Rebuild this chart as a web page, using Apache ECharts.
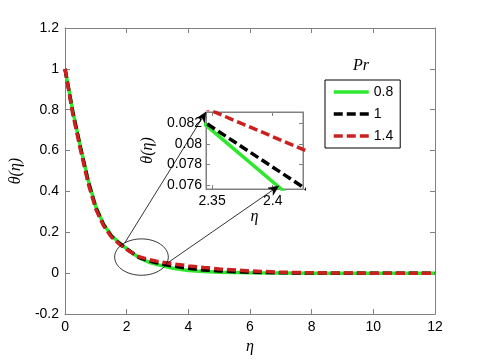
<!DOCTYPE html>
<html><head><meta charset="utf-8">
<script src="https://cdn.jsdelivr.net/npm/echarts@6/dist/echarts.min.js"></script>
<style>html,body{margin:0;padding:0;background:#fff}#c{width:480px;height:360px}</style>
</head><body><div id="c"></div>
<script>
// ---- data ----
const eta   = [0, 0.25, 0.5, 0.75, 1, 1.25, 1.5, 1.75, 2, 2.34, 2.43, 2.75, 3, 3.5, 4, 4.5, 5, 6, 7, 8, 9, 10, 11, 12];
const pr08  = [1, 0.795, 0.62, 0.455, 0.325, 0.24, 0.185, 0.15, 0.12, 0.0823, 0.0733, 0.052, 0.042, 0.024, 0.013, 0.008, 0.005, 0.002, 0.001, 0, 0, 0, 0, 0];
const pr1   = [1, 0.79, 0.615, 0.45, 0.32, 0.237, 0.182, 0.148, 0.119, 0.0824, 0.0754, 0.059, 0.050, 0.035, 0.024, 0.016, 0.011, 0.005, 0.002, 0.001, 0, 0, 0, 0];
const pr14  = [1, 0.78, 0.605, 0.44, 0.313, 0.232, 0.178, 0.144, 0.116, 0.0837, 0.0792, 0.066, 0.058, 0.046, 0.036, 0.028, 0.021, 0.011, 0.005, 0.002, 0.001, 0, 0, 0];
const seriesNames = ['0.8', '1', '1.4'];
const legendTitle = 'Pr';
const insetXTicks = [2.35, 2.4];
const insetYTicks = [0.076, 0.078, 0.08, 0.082];
// ellipse (zoom region) in data coords and arrow anchors
const zoomCenter = [2.48, 0.079];
const zoomRadius = [0.87, 0.089];
const arrowFrom = [[1.94, 0.149], [3.35, 0.053]];
const arrowTo = [[2.345, 0.0831], [2.405, 0.0759]];

const colors = ['#2ee82e', '#000000', '#cc2020'];
const dashes = ['solid', [9, 4], [9, 4]];
const gray = '#808080';
const sans = 'Liberation Sans, Arial, sans-serif';
const serif = 'Liberation Serif, Times New Roman, serif';

function pairs(ys) { return eta.map((x, i) => [x, ys[i]]); }
const allData = [pr08, pr1, pr14];

const chart = echarts.init(document.getElementById('c'), null, { renderer: 'canvas' });

function baseAxis(extra) {
  return Object.assign({
    type: 'value',
    axisLine: { show: true, onZero: false, lineStyle: { color: gray, width: 1 } },
    axisTick: { show: true, inside: true, length: 5, lineStyle: { color: gray } },
    axisLabel: { color: '#000', fontSize: 14, fontFamily: sans, margin: 6 },
    splitLine: { show: false }
  }, extra);
}
const nameStyle = { fontFamily: serif, fontStyle: 'italic', fontSize: 16, color: '#000' };

const series = [];
allData.forEach((d, i) => {
  series.push({
    name: seriesNames[i], type: 'line', xAxisIndex: 0, yAxisIndex: 0,
    data: pairs(d), symbol: 'none', showSymbol: false,
    lineStyle: { color: colors[i], width: 3.5, type: dashes[i] },
    itemStyle: { color: colors[i] }, z: 2 + i
  });
});
allData.forEach((d, i) => {
  series.push({
    name: seriesNames[i], type: 'line', xAxisIndex: 2, yAxisIndex: 2,
    data: pairs(d), symbol: 'none', showSymbol: false, clip: true,
    lineStyle: { color: colors[i], width: 3.5, type: dashes[i] },
    itemStyle: { color: colors[i] }, z: 2 + i
  });
});

chart.setOption({
  animation: false,
  backgroundColor: '#fff',
  title: { text: legendTitle, left: 353, top: 58, padding: 0,
    textStyle: { fontFamily: serif, fontStyle: 'italic', fontWeight: 'normal', fontSize: 16, color: '#000' } },
  legend: {
    orient: 'vertical', left: 325, top: 80,
    padding: [5, 7, 5, 7], itemGap: 8, itemWidth: 35, itemHeight: 14,
    borderColor: '#000', borderWidth: 1, backgroundColor: '#fff',
    itemStyle: { color: 'rgba(0,0,0,0)', borderWidth: 0, opacity: 0 },
    lineStyle: { width: 3.5 },
    textStyle: { fontSize: 14, color: '#000', fontFamily: sans },
    data: seriesNames
  },
  grid: [
    { left: 63, top: 28, right: 45, bottom: 40, containLabel: false },
    { left: 206, top: 112, width: 97, height: 77, show: true, backgroundColor: '#fff', borderColor: gray, borderWidth: 1 }
  ],
  xAxis: [
    baseAxis({ gridIndex: 0, min: 0, max: 12, interval: 2, position: 'bottom',
      name: 'η', nameLocation: 'middle', nameGap: 22, nameTextStyle: nameStyle }),
    baseAxis({ gridIndex: 0, min: 0, max: 12, interval: 2, position: 'top', axisLabel: { show: false } }),
    baseAxis({ gridIndex: 1, min: 2.345, max: 2.425, position: 'bottom',
      axisTick: { show: true, inside: true, length: 4, lineStyle: { color: gray }, customValues: insetXTicks },
      axisLabel: { color: '#000', fontSize: 14, fontFamily: sans, margin: 5, customValues: insetXTicks },
      name: 'η', nameLocation: 'middle', nameGap: 20, nameTextStyle: nameStyle }),
    baseAxis({ gridIndex: 1, min: 2.345, max: 2.425, position: 'top',
      axisTick: { show: true, inside: true, length: 4, lineStyle: { color: gray }, customValues: insetXTicks },
      axisLabel: { show: false } })
  ],
  yAxis: [
    baseAxis({ gridIndex: 0, min: -0.2, max: 1.2, interval: 0.2, position: 'left',
      name: 'θ(η)', nameLocation: 'middle', nameRotate: 90, nameGap: 38, nameTextStyle: nameStyle }),
    baseAxis({ gridIndex: 0, min: -0.2, max: 1.2, interval: 0.2, position: 'right', axisLabel: { show: false } }),
    baseAxis({ gridIndex: 1, min: 0.0756, max: 0.0831, position: 'left',
      axisTick: { show: true, inside: true, length: 4, lineStyle: { color: gray }, customValues: insetYTicks },
      axisLabel: { color: '#000', fontSize: 14, fontFamily: sans, margin: 4, customValues: insetYTicks },
      name: 'θ(η)', nameLocation: 'middle', nameRotate: 90, nameGap: 50, nameTextStyle: nameStyle }),
    baseAxis({ gridIndex: 1, min: 0.0756, max: 0.0831, position: 'right',
      axisTick: { show: true, inside: true, length: 4, lineStyle: { color: gray }, customValues: insetYTicks },
      axisLabel: { show: false } })
  ],
  series: series
});

// annotations: ellipse + arrows computed through the axes
const c = chart.convertToPixel({ gridIndex: 0 }, zoomCenter);
const ex = chart.convertToPixel({ gridIndex: 0 }, [zoomCenter[0] + zoomRadius[0], zoomCenter[1] + zoomRadius[1]]);
const rx = Math.abs(ex[0] - c[0]), ry = Math.abs(ex[1] - c[1]);
const ellPts = [];
for (let k = 0; k < 72; k++) {
  const a = k / 72 * Math.PI * 2;
  ellPts.push([c[0] + rx * Math.cos(a), c[1] + ry * Math.sin(a)]);
}
const graphics = [{ type: 'polygon', shape: { points: ellPts }, style: { fill: 'none', stroke: '#000', lineWidth: 0.8 }, z: 100 }];
arrowFrom.forEach((f, i) => {
  const p0 = chart.convertToPixel({ gridIndex: 0 }, f);
  const p1 = chart.convertToPixel({ gridIndex: 1 }, arrowTo[i]);
  const dx = p1[0] - p0[0], dy = p1[1] - p0[1];
  const L = Math.hypot(dx, dy), ux = dx / L, uy = dy / L, nx = -uy, ny = ux;
  const len = 10, hw = 4.5, back = 7;
  graphics.push({ type: 'line', shape: { x1: p0[0], y1: p0[1], x2: p1[0] - ux * back, y2: p1[1] - uy * back },
    style: { stroke: '#000', lineWidth: 0.8 }, z: 100 });
  graphics.push({ type: 'polygon', shape: { points: [
    [p1[0], p1[1]],
    [p1[0] - ux * len + nx * hw, p1[1] - uy * len + ny * hw],
    [p1[0] - ux * back, p1[1] - uy * back],
    [p1[0] - ux * len - nx * hw, p1[1] - uy * len - ny * hw]
  ] }, style: { fill: '#000', stroke: '#000', lineWidth: 0.5 }, z: 101 });
});
chart.setOption({ graphic: graphics });
</script></body></html>
